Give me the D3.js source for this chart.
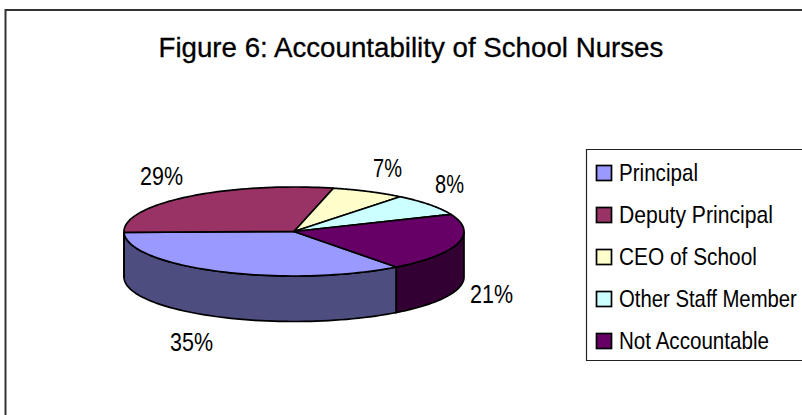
<!DOCTYPE html>
<html><head><meta charset="utf-8">
<script src="https://cdn.jsdelivr.net/npm/d3@7"></script>
<style>
html,body{margin:0;padding:0;background:#fff;overflow:hidden}
svg{display:block}
text{font-family:"Liberation Sans",Arial,sans-serif;fill:#000}
</style></head><body><svg id="c" width="802" height="415"></svg>
<script>
const title = "Figure 6: Accountability of School Nurses";
const categories = ["Principal","Deputy Principal","CEO of School","Other Staff Member","Not Accountable"];
const values = [35,29,7,8,21];
const topColors = ["#9999FF","#993366","#FFFFCC","#CCFFFF","#660066"];
const sideColors = ["#4D4D80","#4D4D80","#808066","#668080","#330033"];
const labelPos = [[191.5,351],[161.5,185],[387.5,177],[449.5,193],[491.5,303]];
const legendWidths = [79,154,138,178,150];

const svg = d3.select("#c");
const cx=294, cy=231.5, rx=170, ry=44.5, depth=45.5;
const X = d3.scaleLinear().domain([-1,1]).range([cx-rx,cx+rx]);
const Y = d3.scaleLinear().domain([-1,1]).range([cy-ry,cy+ry]);
const px = a => X(Math.sin(a)), py = a => Y(-Math.cos(a));
const start = 143*Math.PI/180;
const pie = d3.pie().sort(null).startAngle(start).endAngle(start+2*Math.PI);
const arcs = pie(values);
const samples = (a0,a1)=>d3.range(0,61).map(i=>a0+(a1-a0)*i/60);
const line = d3.line();

// draws a left-aligned text condensed horizontally to a target width
function narrowText(g,str,left,base,size,width){
  const t=g.append("text").attr("font-size",size).text(str);
  const k=width/t.node().getComputedTextLength();
  t.attr("transform",`translate(${left},${base}) scale(${k},1)`);
  return t;
}

// chart frame: only the left and top edges fall inside the picture
svg.append("path").attr("d",line([[5.5,420],[5.5,10],[810,10]]))
  .attr("fill","none").attr("stroke","#333").attr("stroke-width",2);
narrowText(svg,title,158.5,57,27,505).attr("stroke","#000").attr("stroke-width",0.3);

// side wall: only the front half of the rim is visible
const lo=Math.PI/2, hi=3*Math.PI/2;
arcs.forEach((d,i)=>{
  [[d.startAngle,d.endAngle],[d.startAngle-2*Math.PI,d.endAngle-2*Math.PI]].forEach(([a,b])=>{
    const a0=Math.max(a,lo), a1=Math.min(b,hi);
    if(a1<=a0) return;
    const s=samples(a0,a1);
    const pts=s.map(t=>[px(t),py(t)]).concat(s.slice().reverse().map(t=>[px(t),py(t)+depth]));
    svg.append("path").attr("d",line(pts)+"Z").attr("fill",sideColors[i]).attr("stroke","#000").attr("stroke-width",1.7);
  });
});
// top slices
arcs.forEach((d,i)=>{
  const pts=[[X(0),Y(0)]].concat(samples(d.startAngle,d.endAngle).map(t=>[px(t),py(t)]));
  svg.append("path").attr("d",line(pts)+"Z").attr("fill",topColors[i]).attr("stroke","#000").attr("stroke-width",1.7).attr("stroke-linejoin","round");
});
// labels
values.forEach((v,i)=>{
  const t=v+"%", w=t.length===3?43:29;
  narrowText(svg,t,labelPos[i][0]-w/2,labelPos[i][1],25,w);
});
// legend
const L = svg.append("g");
L.append("path").attr("d",line([[810,149.5],[586.5,149.5],[586.5,360.5],[810,360.5]]))
  .attr("fill","#fff").attr("stroke","#222").attr("stroke-width",1.2);
const ly = d3.scalePoint().domain(categories).range([173,341]);
categories.forEach((c,i)=>{
  L.append("rect").attr("x",596.5).attr("y",ly(c)-7.5).attr("width",15).attr("height",15)
    .attr("fill",topColors[i]).attr("stroke","#000").attr("stroke-width",1.7);
  narrowText(L,c,619,ly(c)+8,24,legendWidths[i]);
});
</script></body></html>
